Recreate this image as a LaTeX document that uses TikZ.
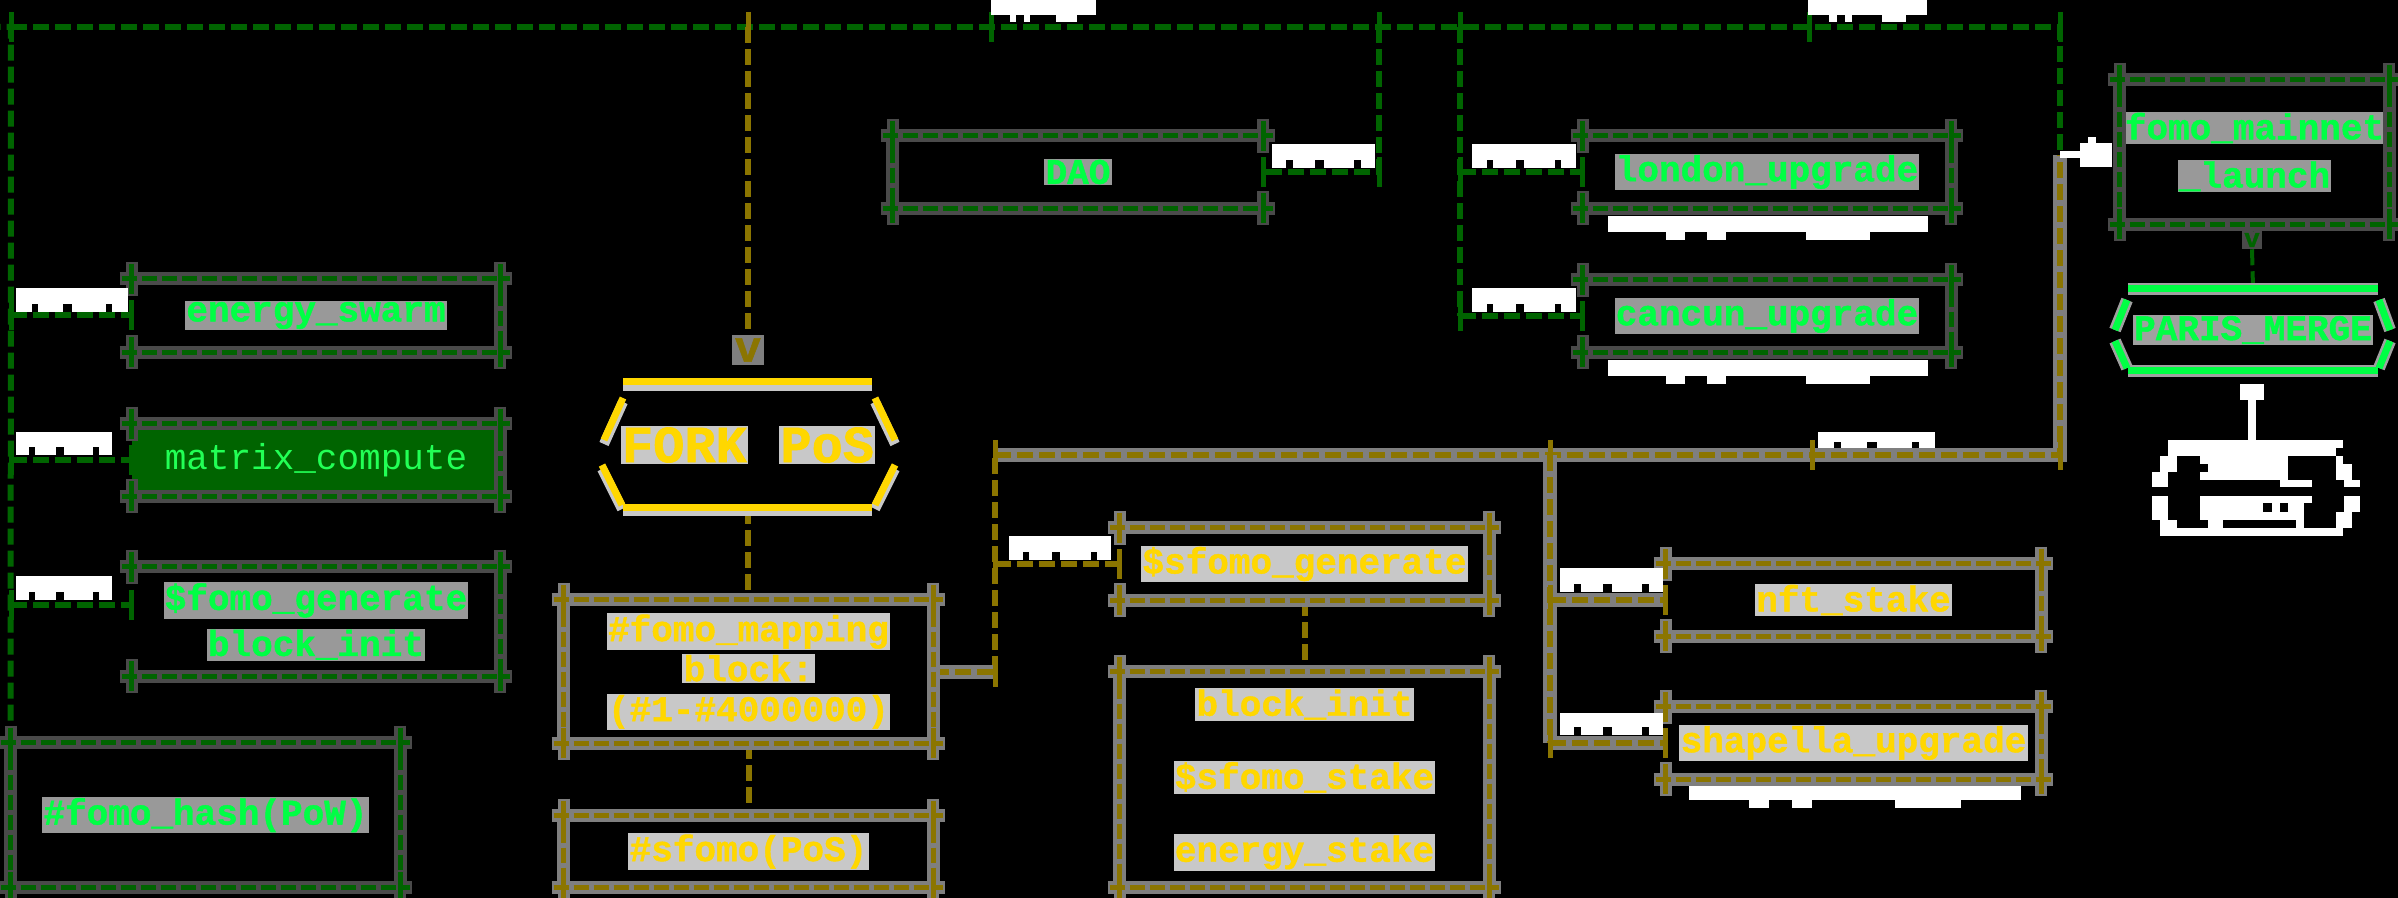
\documentclass[tikz,border=0pt]{standalone}
\usepackage{fontspec}
\usetikzlibrary{calc,arrows.meta}
\newfontfamily\mono{Liberation Mono}[BoldFeatures={FakeBold=1.2}]
\definecolor{cgline}{HTML}{006400}
\definecolor{cghalo}{HTML}{4A4A4A}
\definecolor{coline}{HTML}{8B7500}
\definecolor{cohalo}{HTML}{7F7F7F}
\definecolor{cgtext}{HTML}{00FF44}
\definecolor{cgtbg}{HTML}{999999}
\definecolor{cytext}{HTML}{FFD700}
\definecolor{cytbg}{HTML}{C8C8C8}
\definecolor{cmfill}{HTML}{006400}
\definecolor{cmtext}{HTML}{22FF55}
\definecolor{cphalo}{HTML}{A0A0A0}
\setlength{\fboxsep}{0.6pt}
\newcommand\hg[1]{\colorbox{cgtbg}{#1}}
\newcommand\hy[1]{\colorbox{cytbg}{#1}}
\tikzset{
  base/.style={inner sep=0pt, align=center, font=\mono\bfseries\fontsize{18}{24}\selectfont},
  gnode/.style={base, text=cgtext},
  ynode/.style={base, text=cytext},
  sz/.style 2 args={minimum width=#1*0.5pt, minimum height=#2*0.5pt},
  gdash/.style={draw=cgline, line width=2.2pt, dash pattern=on 7.5pt off 2.5pt},
  odash/.style={draw=coline, line width=2.5pt, dash pattern=on 7.5pt off 2.5pt},
  ghalo/.style={draw=cghalo, line width=6.5pt},
  ohalo/.style={draw=cohalo, line width=6.5pt},
  gtick/.style={draw=cgline, line width=2.5pt},
  otick/.style={draw=coline, line width=2.5pt},
  gconn/.style={draw=cgline, line width=3pt, dash pattern=on 8pt off 3pt},
  oconn/.style={draw=coline, line width=3pt, dash pattern=on 8pt off 3pt},
  oconnh/.style={oconn, preaction={draw=cohalo, line width=7pt, solid}},
  arrw/.style={draw=white, line width=3.5pt, -{Square[length=16pt,width=12pt]}},
}
\newcommand\vtick[2]{\draw[#2tick] ($(#1)+(0,-15)$) -- ($(#1)+(0,15)$);}
\newcommand\boxfr[3]{%
  \foreach \s in {#3}{\draw[#2halo] (#1.north \s) -- (#1.south \s);}
  \draw[#2halo] ($(#1.north west)+(-12,0)$) -- ($(#1.north east)+(12,0)$);
  \draw[#2halo] ($(#1.south west)+(-12,0)$) -- ($(#1.south east)+(12,0)$);
  \foreach \c in {north west,north east,south west,south east}{%
    \draw[#2halo, line width=6pt] ($(#1.\c)+(0,-17)$) -- ($(#1.\c)+(0,17)$);}
  \foreach \s in {#3}{\draw[#2dash] ($(#1.north \s)+(0,12)$) -- ($(#1.south \s)+(0,-12)$);}
  \draw[#2dash] ($(#1.north west)+(-10,0)$) -- ($(#1.north east)+(10,0)$);
  \draw[#2dash] ($(#1.south west)+(-10,0)$) -- ($(#1.south east)+(10,0)$);
  \vtick{#1.north west}{#2}\vtick{#1.north east}{#2}%
  \vtick{#1.south west}{#2}\vtick{#1.south east}{#2}}
\newcommand\blobt[4]{%
  \fill[white] (#1,#2) rectangle (#3,#4);
  \pgfmathsetmacro\bw{#3-#1}\pgfmathsetmacro\bh{#4-#2}
  \fill[black] ({#1+0.14*\bw},{#4-0.35*\bh}) rectangle ({#1+0.2*\bw},#4);
  \fill[black] ({#1+0.42*\bw},{#4-0.35*\bh}) rectangle ({#1+0.5*\bw},#4);
  \fill[black] ({#1+0.8*\bw},{#4-0.35*\bh}) rectangle ({#1+0.86*\bw},#4);}
\newcommand\blobb[5]{%
  \fill[white] (#1,#2) rectangle (#3,#4);
  \pgfmathsetmacro\bw{#3-#1}
  \fill[white] ({#1+0.18*\bw},#4) rectangle ({#1+0.24*\bw},#5);
  \fill[white] ({#1+0.31*\bw},#4) rectangle ({#1+0.37*\bw},#5);
  \fill[white] ({#1+0.62*\bw},#4) rectangle ({#1+0.82*\bw},#5);}
\begin{document}
\begin{tikzpicture}[x=0.5pt,y=-0.5pt]
\fill[black] (0,0) rectangle (2398,898);
\useasboundingbox (0,0) rectangle (2398,898);

% ---------- nodes ----------
\node[gnode, sz={368}{73}] (energy) at (316,315.5) {\hg{energy\_swarm}};
\node[base, sz={368}{72}, fill=cmfill, text=cmtext, font=\mono\fontsize{18}{24}\selectfont] (matrix) at (316,460) {matrix\_compute};
\node[gnode, sz={368}{109}] (fgen) at (316,621.5) {\hg{\$fomo\_generate}\\[-1pt]\hg{block\_init}};
\node[gnode, sz={389}{144}] (hash) at (205.5,815) {\hg{\#fomo\_hash(PoW)}};
\node[gnode, sz={370}{72}] (dao) at (1078,172) {\hg{DAO}};
\node[gnode, sz={368}{72}] (london) at (1767,172) {\hg{london\_upgrade}};
\node[gnode, sz={368}{72}] (cancun) at (1767,316) {\hg{cancun\_upgrade}};
\node[gnode, sz={269}{144}] (mainnet) at (2254.5,152) {\hg{fomo\_mainnet}\\\hg{\_launch}};
\node[gnode, sz={278}{82}] (paris) at (2253,330) {\colorbox{cphalo}{PARIS\_MERGE}};
\node[ynode, sz={300}{125}, font=\mono\bfseries\fontsize{26}{30}\selectfont] (fork) at (748,445) {\hy{FORK} \hy{PoS}};
\node[ynode, sz={369}{143}] (mapping) at (748.5,671.5) {\hy{\#fomo\_mapping}\\[-4pt]\hy{block:}\\[-4pt]\hy{(\#1-\#4000000)}};
\node[ynode, sz={369}{71}] (spos) at (748.5,851.5) {\hy{\#sfomo(PoS)}};
\node[ynode, sz={369}{72}] (sgen) at (1304.5,564) {\hy{\$sfomo\_generate}};
\node[ynode, sz={369}{215}] (binit) at (1304.5,779.5) {\hy{block\_init}\\[12.5pt]\hy{\$sfomo\_stake}\\[12.5pt]\hy{energy\_stake}};
\node[ynode, sz={375}{72}] (nft) at (1853.5,600) {\hy{nft\_stake}};
\node[ynode, sz={375}{72}] (shap) at (1853.5,743) {\hy{shapella\_upgrade}};
\node[inner sep=1.5pt, fill=cohalo, text=coline, font=\mono\bfseries\fontsize{22}{22}\selectfont] (forkv) at (748,350) {v};
\node[inner sep=1pt, fill=cghalo, text=cgline, font=\mono\bfseries\fontsize{13}{13}\selectfont] (pv) at (2252,240) {v};

% ---------- coordinates ----------
\coordinate (tl0) at (0,27);
\coordinate (tl) at (11,27);
\coordinate (tr) at (2060,27);
\coordinate (jf) at (748,27);
\coordinate (j1) at (991,27);
\coordinate (jd) at (1379,27);
\coordinate (jl) at (1460,27);
\coordinate (j2) at (1809,27);
\coordinate (bl) at (995,455);
\coordinate (bm) at (1550,455);
\coordinate (b2) at (1812,455);
\coordinate (br) at (2060,455);
\coordinate (ma) at ($(mainnet.west)+(-8,3)$);
\coordinate (jm) at (tr |- ma);
\coordinate (fgw) at ($(fgen.west)+(0,-17)$);
\coordinate (ps) at ($(paris.south)+(-1,13)$);
\coordinate (bt) at (2252,440);

% ---------- green connectors ----------
\draw[gconn] (hash.north west) -- (tl) -- (tl0);
\draw[gconn] (tl) -- (tr) -- (jm);
\coordinate (e1) at (tl |- energy.west);
\coordinate (e2) at (tl |- matrix.west);
\coordinate (e3) at (tl |- fgw);
\draw[gconn] (e1) -- (energy.west);
\draw[gconn] (e2) -- (matrix.west);
\draw[gconn] (e3) -- (fgw);
\coordinate (d1) at (jd |- dao.east);
\draw[gconn] (jd) -- (d1) -- (dao.east);
\coordinate (l1) at (jl |- london.west);
\coordinate (c1) at (jl |- cancun.west);
\draw[gconn] (jl) -- (c1);
\draw[gconn] (l1) -- (london.west);
\draw[gconn] (c1) -- (cancun.west);
\foreach \p in {tl,j1,jd,jl,j2,tr,e1,e2,e3,d1,l1,c1,energy.west,matrix.west,fgw,dao.east,london.west,cancun.west}{\vtick{\p}{g}}
\draw[gconn, line width=2pt] (mainnet.south) -- (pv.north);
\draw[gconn, line width=2pt] (pv.south) -- (paris.north);

% ---------- ochre connectors ----------
\draw[oconn] (jf) -- (forkv.north);
\vtick{jf}{o}
\draw[oconn] (fork.south) -- (fork.south |- mapping.north);
\draw[oconn] (mapping.south) -- (spos.north);
\draw[oconn] (sgen.south) -- (binit.north);
\coordinate (m1) at (bl |- mapping.east);
\coordinate (s1) at (bl |- sgen.west);
\draw[oconn] (m1) -- (bl);
\draw[oconnh] (mapping.east) -- (m1);
\draw[oconn] (s1) -- (sgen.west);
\draw[oconnh] (bl) -- (br) -- (jm);
\coordinate (n1) at (bm |- nft.west);
\coordinate (h1) at (bm |- shap.west);
\draw[oconnh] (bm) -- (h1);
\draw[oconnh] (n1) -- (nft.west);
\draw[oconnh] (h1) -- (shap.west);
\foreach \p in {bl,bm,b2,br,m1,s1,n1,h1,mapping.east,sgen.west,nft.west,shap.west}{\vtick{\p}{o}}

% ---------- box frames ----------
\boxfr{energy}{g}{east}
\boxfr{matrix}{g}{east}
\boxfr{fgen}{g}{east}
\boxfr{hash}{g}{west,east}
\boxfr{dao}{g}{west}
\boxfr{london}{g}{east}
\boxfr{cancun}{g}{east}
\boxfr{mainnet}{g}{west,east}
\boxfr{mapping}{o}{west,east}
\boxfr{spos}{o}{west,east}
\boxfr{sgen}{o}{east}
\boxfr{binit}{o}{west,east}
\boxfr{nft}{o}{east}
\boxfr{shap}{o}{east}

% ---------- hexagons ----------
\begin{scope}[line width=5pt, draw=cytbg, shift={(0,4)}]
\draw (623,382) -- (872,382); \draw (623,507) -- (872,507);
\draw (623,398) -- (604,440); \draw (602,465) -- (622,505);
\draw (875,398) -- (895,440); \draw (895,465) -- (875,505);
\end{scope}
\begin{scope}[line width=3.5pt, draw=cytext]
\draw (623,382) -- (872,382); \draw (623,507) -- (872,507);
\draw (623,398) -- (604,440); \draw (602,465) -- (622,505);
\draw (875,398) -- (895,440); \draw (895,465) -- (875,505);
\end{scope}
\begin{scope}[line width=6pt, draw=cphalo]
\draw (2128,289) -- (2378,289); \draw (2128,371) -- (2378,371);
\draw (2127,300) -- (2115,330); \draw (2115,341) -- (2127,368);
\draw (2379,300) -- (2390,330); \draw (2390,341) -- (2379,368);
\end{scope}
\begin{scope}[line width=3.5pt, draw=cgtext]
\draw (2128,289) -- (2378,289); \draw (2128,371) -- (2378,371);
\draw (2127,300) -- (2115,330); \draw (2115,341) -- (2127,368);
\draw (2379,300) -- (2390,330); \draw (2390,341) -- (2379,368);
\end{scope}

% ---------- white arrow into mainnet ----------
\draw[arrw] (jm) -- (ma);
\fill[white] ($(ma)+(-24,-18)$) rectangle ($(ma)+(-16,-12)$);

% ---------- white node under PARIS_MERGE ----------
\draw[white, line width=4pt] (ps) -- (bt);
\fill[white] ($(ps)+(-12,0)$) rectangle ($(ps)+(12,16)$);
\begin{scope}[shift={(2120,370)}, x=0.5pt/3, y=-0.5pt/3]
\fill[white] (145,210) rectangle (670,235);
\fill[white] (145,235) rectangle (648,258);
\fill[white] (120,258) rectangle (170,305);
\fill[white] (240,258) rectangle (505,282);
\fill[white] (265,282) rectangle (505,305);
\fill[white] (648,258) rectangle (670,282);
\fill[white] (648,282) rectangle (695,330);
\fill[white] (97,305) rectangle (145,352);
\fill[white] (240,305) rectangle (505,330);
\fill[white] (480,330) rectangle (575,352);
\fill[white] (672,330) rectangle (720,352);
\fill[white] (97,378) rectangle (145,450);
\fill[white] (240,378) rectangle (575,400);
\fill[white] (240,400) rectangle (430,425);
\fill[white] (455,400) rectangle (480,425);
\fill[white] (505,400) rectangle (552,425);
\fill[white] (672,378) rectangle (720,425);
\fill[white] (240,425) rectangle (552,450);
\fill[white] (648,425) rectangle (695,475);
\fill[white] (120,450) rectangle (170,497);
\fill[white] (265,450) rectangle (310,475);
\fill[white] (528,450) rectangle (552,475);
\fill[white] (120,475) rectangle (670,497);
\end{scope}

% ---------- white labels ----------
\blobb{991}{0}{1096}{15}{22}
\blobb{1808}{0}{1927}{15}{22}
\blobt{16}{288}{128}{312}
\blobt{16}{432}{112}{455}
\blobt{16}{576}{112}{600}
\blobt{1272}{144}{1375}{168}
\blobt{1472}{144}{1576}{168}
\blobt{1472}{288}{1576}{312}
\blobt{1818}{432}{1935}{448}
\blobt{1009}{536}{1111}{560}
\blobt{1560}{568}{1663}{592}
\blobt{1560}{713}{1663}{735}
\blobb{1608}{216}{1928}{232}{240}
\blobb{1608}{360}{1928}{376}{384}
\blobb{1689}{786}{2021}{800}{808}
\end{tikzpicture}
\end{document}
